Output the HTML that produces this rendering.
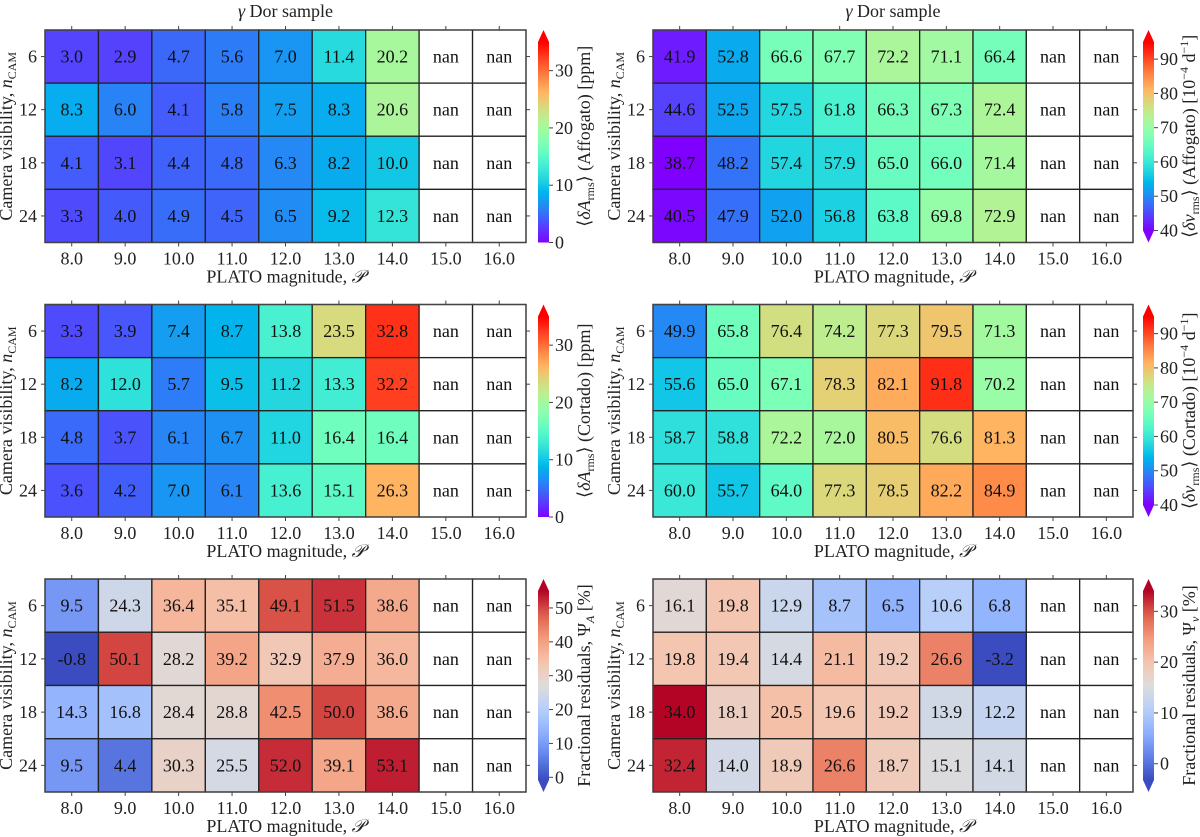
<!DOCTYPE html>
<html><head><meta charset="utf-8">
<style>
html,body{margin:0;padding:0;background:#fff;}
svg{display:block;font-family:"Liberation Serif",serif;}
svg text{font-family:"Liberation Serif","DejaVu Serif",serif;}
</style></head>
<body>
<svg id="fig" width="1200" height="837" viewBox="0 0 1200 837" xmlns="http://www.w3.org/2000/svg" font-family="Liberation Serif, serif"></svg>
<script>
const mags = ["8.0","9.0","10.0","11.0","12.0","13.0","14.0","15.0","16.0"];
const ncam = ["6","12","18","24"];
const ampAffogato = [
 [3.0,2.9,4.7,5.6,7.0,11.4,20.2,null,null],
 [8.3,6.0,4.1,5.8,7.5,8.3,20.6,null,null],
 [4.1,3.1,4.4,4.8,6.3,8.2,10.0,null,null],
 [3.3,4.0,4.9,4.5,6.5,9.2,12.3,null,null]];
const freqAffogato = [
 [41.9,52.8,66.6,67.7,72.2,71.1,66.4,null,null],
 [44.6,52.5,57.5,61.8,66.3,67.3,72.4,null,null],
 [38.7,48.2,57.4,57.9,65.0,66.0,71.4,null,null],
 [40.5,47.9,52.0,56.8,63.8,69.8,72.9,null,null]];
const ampCortado = [
 [3.3,3.9,7.4,8.7,13.8,23.5,32.8,null,null],
 [8.2,12.0,5.7,9.5,11.2,13.3,32.2,null,null],
 [4.8,3.7,6.1,6.7,11.0,16.4,16.4,null,null],
 [3.6,4.2,7.0,6.1,13.6,15.1,26.3,null,null]];
const freqCortado = [
 [49.9,65.8,76.4,74.2,77.3,79.5,71.3,null,null],
 [55.6,65.0,67.1,78.3,82.1,91.8,70.2,null,null],
 [58.7,58.8,72.2,72.0,80.5,76.6,81.3,null,null],
 [60.0,55.7,64.0,77.3,78.5,82.2,84.9,null,null]];
const residA = [
 [9.5,24.3,36.4,35.1,49.1,51.5,38.6,null,null],
 [-0.8,50.1,28.2,39.2,32.9,37.9,36.0,null,null],
 [14.3,16.8,28.4,28.8,42.5,50.0,38.6,null,null],
 [9.5,4.4,30.3,25.5,52.0,39.1,53.1,null,null]];
const residNu = [
 [16.1,19.8,12.9,8.7,6.5,10.6,6.8,null,null],
 [19.8,19.4,14.4,21.1,19.2,26.6,-3.2,null,null],
 [34.0,18.1,20.5,19.6,19.2,13.9,12.2,null,null],
 [32.4,14.0,18.9,26.6,18.7,15.1,14.1,null,null]];
const ampTicks = [0,10,20,30];
const freqTicks = [40,50,60,70,80,90];
const residATicks = [0,10,20,30,40,50];
const residNuTicks = [0,10,20,30];

const NS="http://www.w3.org/2000/svg";
const svg=document.getElementById('fig');
function mk(tag,attrs,parent){const e=document.createElementNS(NS,tag);for(const k in attrs)e.setAttribute(k,attrs[k]);(parent||svg).appendChild(e);return e;}

function rainbow(t){t=Math.max(0,Math.min(1,t));
 const r=Math.min(1,Math.abs(2*t-0.5)),g=Math.sin(Math.PI*t),b=Math.cos(Math.PI*t/2);
 return `rgb(${Math.round(r*255)},${Math.round(g*255)},${Math.round(Math.max(0,b)*255)})`;}
const cwStops=[[58,76,192],[98,130,234],[141,176,254],[184,208,249],[221,220,220],[245,196,173],[244,154,123],[222,96,77],[180,4,38]];
function coolwarm(t){t=Math.max(0,Math.min(1,t));const p=t*8,i=Math.min(7,Math.floor(p)),f=p-i;
 const a=cwStops[i],b=cwStops[i+1];return `rgb(${[0,1,2].map(k=>Math.round(a[k]+(b[k]-a[k])*f)).join(',')})`;}

function label(parent,x,y,html,attrs){const t=mk('text',Object.assign({x:x,y:y,'font-family':'Liberation Serif, serif'},attrs||{}),parent);t.innerHTML=html;return t;}

function panel(cfg){
 const g=mk('g',{});
 
 
 const x0=cfg.x0,x1=cfg.x1,y0=cfg.y0,y1=cfg.y1;
 const cw=(x1-x0)/mags.length,ch=(y1-y0)/ncam.length;
 const xs=i=>x0+i*cw, ys=j=>y0+j*ch;
 const norm=v=>(v-cfg.vmin)/(cfg.vmax-cfg.vmin);
 cfg.data.forEach((row,j)=>row.forEach((v,i)=>{
  const r=mk('rect',{x:xs(i),y:ys(j),width:cw,height:ch,fill:v===null?'#fff':cfg.cmap(norm(v)),stroke:'#222','stroke-width':1.3},g);
  
  
  const t=label(g,xs(i)+cw/2,ys(j)+ch/2+6,v===null?'nan':v.toFixed(1),{'text-anchor':'middle','font-size':18,fill:'#111'});
  
  
 }));
 mk('rect',{x:x0,y:y0,width:x1-x0,height:y1-y0,fill:'none',stroke:'#444','stroke-width':1.3},g);
 mags.forEach((m,i)=>{const cx=xs(i)+cw/2;
  mk('line',{x1:cx,x2:cx,y1:y1,y2:y1+4,stroke:'#444'},g);mk('line',{x1:cx,x2:cx,y1:y0,y2:y0-4,stroke:'#444'},g);
  const t=label(g,cx,y1+22,m,{'text-anchor':'middle','font-size':18,fill:'#222'});
  });
 ncam.forEach((n,j)=>{const cy=ys(j)+ch/2;
  mk('line',{x1:x0-4,x2:x0,y1:cy,y2:cy,stroke:'#444'},g);mk('line',{x1:x1,x2:x1+4,y1:cy,y2:cy,stroke:'#444'},g);
  const t=label(g,x0-8,cy+6,n,{'text-anchor':'end','font-size':18,fill:'#222'});
  });
 const xl=label(g,(x0+x1)/2,y1+40,'PLATO magnitude, <tspan font-style="italic">𝒫</tspan>',{'text-anchor':'middle','font-size':18,fill:'#222'});
 
 const ycx=x0-33,ycy=(y0+y1)/2;
 const yl=label(g,ycx,ycy,'Camera visibility, <tspan font-style="italic">n</tspan><tspan font-size="12" dy="4">CAM</tspan>',{'text-anchor':'middle','font-size':18,fill:'#222',transform:`rotate(-90 ${ycx} ${ycy})`});
 
 if(cfg.title){const tt=label(g,(x0+x1)/2,17,'<tspan font-style="italic">γ</tspan> Dor sample',{'text-anchor':'middle','font-size':18,fill:'#222'});
  }
 const cb=mk('g',{},g);
 
 const bx=cfg.cbx,bw=11,tri=12;
 const by0=y0+tri, by1=cfg.extendMin?y1-tri:y1;
 const id='grad'+cfg.name;
 const defs=mk('defs',{},cb);const lg=mk('linearGradient',{id:id,x1:0,y1:1,x2:0,y2:0},defs);
 for(let k=0;k<=20;k++)mk('stop',{offset:k/20,'stop-color':cfg.cmap(k/20)},lg);
 mk('rect',{x:bx,y:by0,width:bw,height:by1-by0,fill:`url(#${id})`},cb);
 mk('polygon',{points:`${bx},${by0} ${bx+bw},${by0} ${bx+bw/2},${y0}`,fill:cfg.cmap(1)},cb);
 if(cfg.extendMin)mk('polygon',{points:`${bx},${by1} ${bx+bw},${by1} ${bx+bw/2},${y1}`,fill:cfg.cmap(0)},cb);
 const cy=v=>by1-(v-cfg.vmin)/(cfg.vmax-cfg.vmin)*(by1-by0);
 cfg.ticks.forEach(tv=>{const yy=cy(tv);
  mk('line',{x1:bx+bw,x2:bx+bw+4,y1:yy,y2:yy,stroke:'#444'},cb);
  const t=label(cb,bx+bw+6,yy+6,String(tv),{'font-size':18,fill:'#222'});
  });
 const lx=bx+52,ly=(y0+y1)/2;
 const cl=label(cb,lx,ly,cfg.cblabel,{'text-anchor':'middle','font-size':18,fill:'#222',transform:`rotate(-90 ${lx} ${ly})`});
 
}
const L={x0:45,x1:526,cbx:538}, R={x0:653,x1:1133,cbx:1143};
const rows=[[30,242.5],[304.5,517],[579,792]];
const ampLbl=(w)=>`⟨<tspan font-style="italic">δA</tspan><tspan font-size="12" dy="4">rms</tspan><tspan dy="-4">⟩ (${w}) [ppm]</tspan>`;
const frqLbl=(w)=>`⟨<tspan font-style="italic">δν</tspan><tspan font-size="12" dy="4">rms</tspan><tspan dy="-4">⟩ (${w}) [10</tspan><tspan font-size="12" dy="-7">−4</tspan><tspan dy="7"> d</tspan><tspan font-size="12" dy="-7">−1</tspan><tspan dy="7">]</tspan>`;
panel({name:'amp-affogato-panel',...L,y0:rows[0][0],y1:rows[0][1],data:ampAffogato,cmap:rainbow,vmin:0,vmax:35,ticks:ampTicks,extendMin:false,title:true,cblabel:ampLbl('Affogato')});
panel({name:'freq-affogato-panel',...R,y0:rows[0][0],y1:rows[0][1],data:freqAffogato,cmap:rainbow,vmin:40,vmax:95,ticks:freqTicks,extendMin:true,title:true,cblabel:frqLbl('Affogato')});
panel({name:'amp-cortado-panel',...L,y0:rows[1][0],y1:rows[1][1],data:ampCortado,cmap:rainbow,vmin:0,vmax:35,ticks:ampTicks,extendMin:false,cblabel:ampLbl('Cortado')});
panel({name:'freq-cortado-panel',...R,y0:rows[1][0],y1:rows[1][1],data:freqCortado,cmap:rainbow,vmin:40,vmax:95,ticks:freqTicks,extendMin:true,cblabel:frqLbl('Cortado')});
panel({name:'resid-amp-panel',...L,y0:rows[2][0],y1:rows[2][1],data:residA,cmap:coolwarm,vmin:-0.8,vmax:55,ticks:residATicks,extendMin:true,cblabel:'Fractional residuals, Ψ<tspan font-size="12" dy="4" font-style="italic">A</tspan><tspan dy="-4"> [%]</tspan>'});
panel({name:'resid-freq-panel',...R,y0:rows[2][0],y1:rows[2][1],data:residNu,cmap:coolwarm,vmin:-3.2,vmax:34.0,ticks:residNuTicks,extendMin:true,cblabel:'Fractional residuals, Ψ<tspan font-size="12" dy="4" font-style="italic">ν</tspan><tspan dy="-4"> [%]</tspan>'});
</script>
</body></html>
